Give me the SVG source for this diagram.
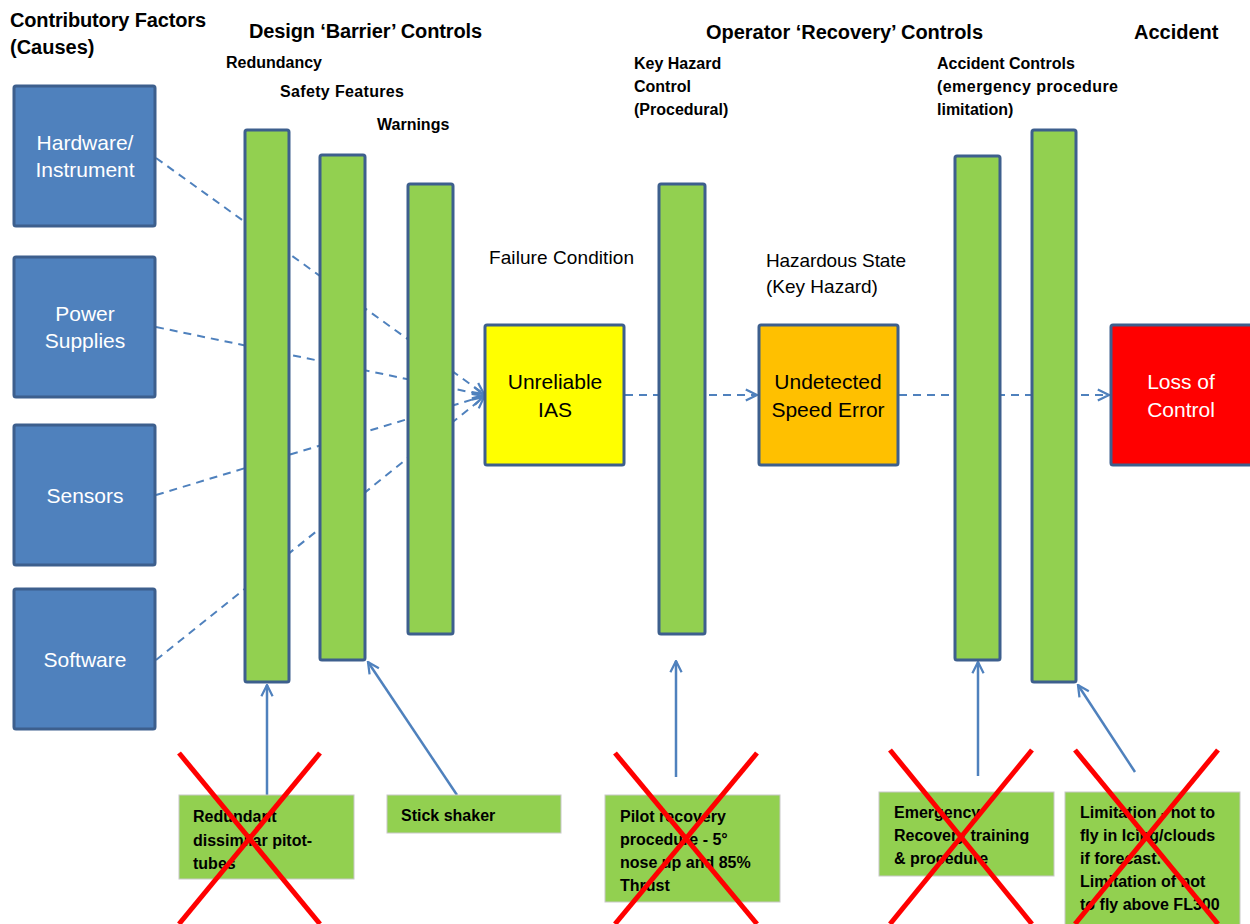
<svg xmlns="http://www.w3.org/2000/svg" width="1250" height="924" viewBox="0 0 1250 924">
  <style>
    .cause { fill: #4F81BD; stroke: #3D5F8D; stroke-width: 3; }
    .bar { fill: #92D050; stroke: #3D5F8D; stroke-width: 3; }
    .state { stroke: #3D5F8D; stroke-width: 3; }
    .ctl { fill: #92D050; stroke: #C8C8C8; stroke-width: 1; }
    .dash { fill: none; stroke: #4F81BD; stroke-width: 2; stroke-dasharray: 8 6; }
    .solid { fill: none; stroke: #4F81BD; stroke-width: 2.5; }
    .cross { stroke: #FF0000; stroke-width: 5; }
    text { font-family: "Liberation Sans", Arial, sans-serif; }
    .head { font-size: 20px; font-weight: bold; fill: #000; }
    .sub { font-size: 16px; font-weight: bold; fill: #000; }
    .lbl { font-size: 19px; fill: #000; }
    .wt { font-size: 21px; fill: #FFFFFF; text-anchor: middle; }
    .bt { font-size: 21px; fill: #000; text-anchor: middle; }
    .note { font-size: 16px; font-weight: bold; fill: #000; }
  </style>
  <defs>
    <marker id="open" viewBox="0 0 10 10" refX="9" refY="5" markerWidth="14" markerHeight="14" markerUnits="userSpaceOnUse" orient="auto">
      <path d="M1,1 L9,5 L1,9" fill="none" stroke="#4F81BD" stroke-width="1.6"/>
    </marker>
  </defs>

  <!-- column headings -->
  <g id="headings">
    <text class="head" x="10" y="27" textLength="196">Contributory Factors</text>
    <text class="head" x="10" y="54">(Causes)</text>
    <text class="head" x="249" y="38" textLength="233">Design ‘Barrier’ Controls</text>
    <text class="head" x="706" y="39" textLength="277">Operator ‘Recovery’ Controls</text>
    <text class="head" x="1134" y="39">Accident</text>
    <text class="sub" x="226" y="68">Redundancy</text>
    <text class="sub" x="280" y="97" textLength="124">Safety Features</text>
    <text class="sub" x="377" y="130">Warnings</text>
    <text class="sub" x="634" y="69">Key Hazard</text>
    <text class="sub" x="634" y="92">Control</text>
    <text class="sub" x="634" y="115">(Procedural)</text>
    <text class="sub" x="937" y="69">Accident Controls</text>
    <text class="sub" x="937" y="92" textLength="181">(emergency procedure</text>
    <text class="sub" x="937" y="115">limitation)</text>
    <text class="lbl" x="489" y="264" textLength="145">Failure Condition</text>
    <text class="lbl" x="766" y="267" textLength="140">Hazardous State</text>
    <text class="lbl" x="766" y="293">(Key Hazard)</text>
  </g>

  <!-- connectors -->
  <g id="connectors">
    <path class="dash" d="M156,158 L484,394" marker-end="url(#open)"/>
    <path class="dash" d="M156,327 L484,395" marker-end="url(#open)"/>
    <path class="dash" d="M156,495 L484,396" marker-end="url(#open)"/>
    <path class="dash" d="M156,660 L484,397" marker-end="url(#open)"/>
    <path class="dash" d="M625,395 L757,395" marker-end="url(#open)"/>
    <path class="dash" d="M899,395 L1109,395" marker-end="url(#open)"/>
    <path class="solid" d="M267,795 L267,685" marker-end="url(#open)"/>
    <path class="solid" d="M457,795 L368,662" marker-end="url(#open)"/>
    <path class="solid" d="M676,777 L676,661" marker-end="url(#open)"/>
    <path class="solid" d="M978,776 L978,662" marker-end="url(#open)"/>
    <path class="solid" d="M1135,772 L1078,685" marker-end="url(#open)"/>
  </g>

  <!-- contributory factors -->
  <g id="hardware">
    <rect class="cause" x="14" y="86" width="141" height="140" rx="2"/>
    <text class="wt" x="85" y="150">Hardware/</text>
    <text class="wt" x="85" y="177">Instrument</text>
  </g>
  <g id="power">
    <rect class="cause" x="14" y="257" width="141" height="140" rx="2"/>
    <text class="wt" x="85" y="321">Power</text>
    <text class="wt" x="85" y="348">Supplies</text>
  </g>
  <g id="sensors">
    <rect class="cause" x="14" y="425" width="141" height="140" rx="2"/>
    <text class="wt" x="85" y="503">Sensors</text>
  </g>
  <g id="software">
    <rect class="cause" x="14" y="589" width="141" height="140" rx="2"/>
    <text class="wt" x="85" y="667">Software</text>
  </g>

  <!-- barrier and recovery controls -->
  <g id="redundancy-bar"><rect class="bar" x="245" y="130" width="44" height="552" rx="2"/></g>
  <g id="safety-bar"><rect class="bar" x="320" y="155" width="45" height="505" rx="2"/></g>
  <g id="warnings-bar"><rect class="bar" x="408" y="184" width="45" height="450" rx="2"/></g>
  <g id="key-hazard-bar"><rect class="bar" x="659" y="184" width="46" height="450" rx="2"/></g>
  <g id="emergency-bar"><rect class="bar" x="955" y="156" width="45" height="504" rx="2"/></g>
  <g id="limitation-bar"><rect class="bar" x="1032" y="130" width="44" height="552" rx="2"/></g>

  <!-- states -->
  <g id="unreliable-ias">
    <rect class="state" x="485" y="325" width="139" height="140" fill="#FFFF00" rx="2"/>
    <text class="bt" x="555" y="389">Unreliable</text>
    <text class="bt" x="555" y="417">IAS</text>
  </g>
  <g id="speed-error">
    <rect class="state" x="759" y="325" width="139" height="140" fill="#FFC000" rx="2"/>
    <text class="bt" x="828" y="389">Undetected</text>
    <text class="bt" x="828" y="417">Speed Error</text>
  </g>
  <g id="loss-of-control">
    <rect class="state" x="1111" y="325" width="141" height="140" fill="#FF0000" rx="2"/>
    <text class="wt" x="1181" y="389">Loss of</text>
    <text class="wt" x="1181" y="417">Control</text>
  </g>

  <!-- control measures -->
  <g id="pitot-tubes">
    <rect class="ctl" x="179" y="795" width="175" height="84"/>
    <text class="note" x="193" y="822">Redundant</text>
    <text class="note" x="193" y="846">dissimilar pitot-</text>
    <text class="note" x="193" y="869">tubes</text>
    <line class="cross" x1="179" y1="753" x2="320" y2="924"/>
    <line class="cross" x1="320" y1="753" x2="179" y2="924"/>
  </g>
  <g id="stick-shaker">
    <rect class="ctl" x="387" y="795" width="174" height="38"/>
    <text class="note" x="401" y="821">Stick shaker</text>
  </g>
  <g id="pilot-recovery">
    <rect class="ctl" x="605" y="795" width="175" height="107"/>
    <text class="note" x="620" y="822">Pilot recovery</text>
    <text class="note" x="620" y="845">procedure - 5°</text>
    <text class="note" x="620" y="868">nose up and 85%</text>
    <text class="note" x="620" y="891">Thrust</text>
    <line class="cross" x1="615" y1="753" x2="757" y2="924"/>
    <line class="cross" x1="757" y1="753" x2="615" y2="924"/>
  </g>
  <g id="emergency-training">
    <rect class="ctl" x="879" y="792" width="175" height="84"/>
    <text class="note" x="894" y="818">Emergency</text>
    <text class="note" x="894" y="841">Recovery training</text>
    <text class="note" x="894" y="864">&amp; procedure</text>
    <line class="cross" x1="890" y1="750" x2="1032" y2="924"/>
    <line class="cross" x1="1032" y1="750" x2="890" y2="924"/>
  </g>
  <g id="flight-limitation">
    <rect class="ctl" x="1065" y="792" width="175" height="140"/>
    <text class="note" x="1080" y="818">Limitation - not to</text>
    <text class="note" x="1080" y="841">fly in Icing/clouds</text>
    <text class="note" x="1080" y="864">if forecast.</text>
    <text class="note" x="1080" y="887">Limitation of not</text>
    <text class="note" x="1080" y="910">to fly above FL300</text>
    <line class="cross" x1="1075" y1="750" x2="1218" y2="924"/>
    <line class="cross" x1="1218" y1="750" x2="1075" y2="924"/>
  </g>
</svg>
